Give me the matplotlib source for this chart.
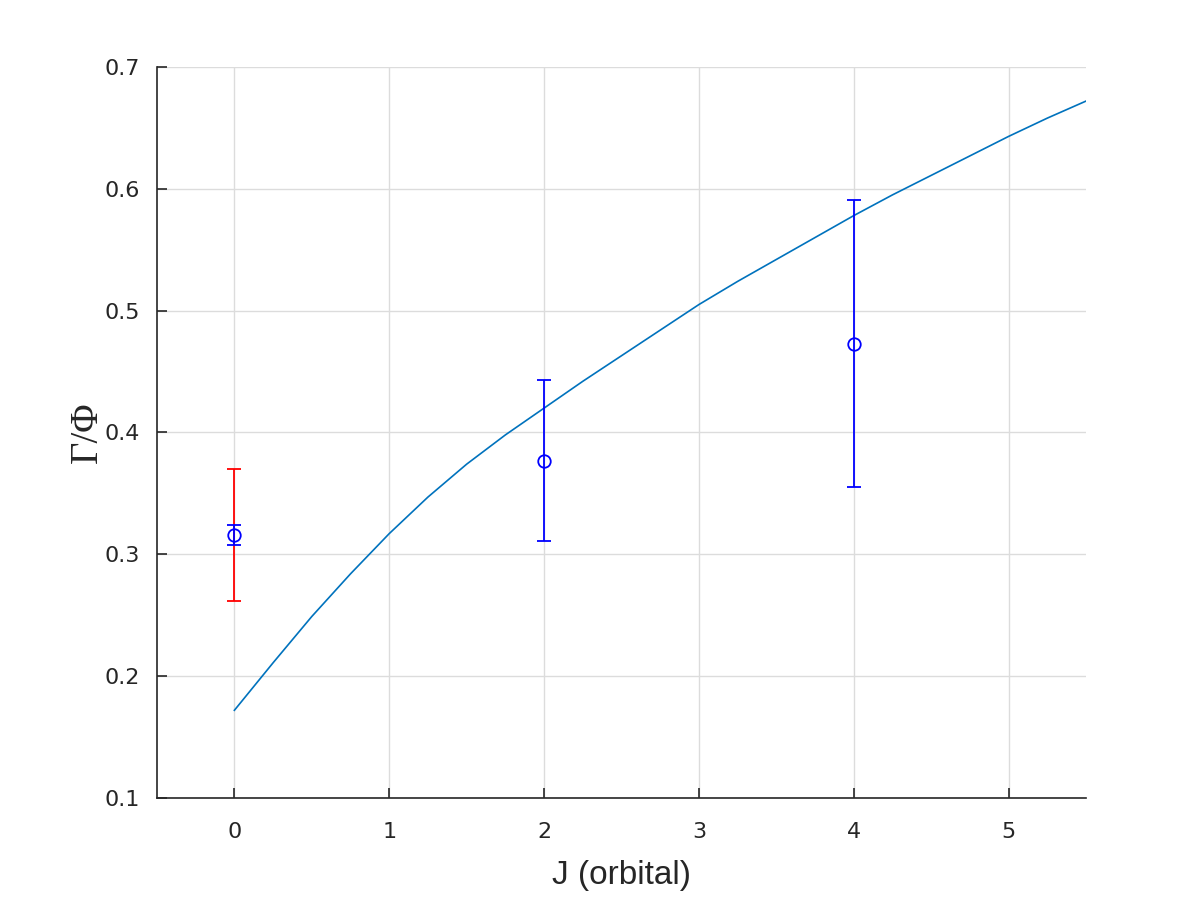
import matplotlib.pyplot as plt

# model curve
curve_j = [0, 0.25, 0.5, 0.75, 1.0, 1.25, 1.5, 1.75, 2.0, 2.25, 2.5, 2.75,
           3.0, 3.25, 3.5, 3.75, 4.0, 4.25, 4.5, 4.75, 5.0, 5.25, 5.5]
curve_val = [0.172, 0.211, 0.249, 0.284, 0.317, 0.347, 0.374, 0.398, 0.420,
             0.442, 0.463, 0.484, 0.505, 0.524, 0.542, 0.560, 0.578, 0.595,
             0.611, 0.627, 0.643, 0.658, 0.672]

# measured points
meas_j = [0, 2, 4]
meas_val = [0.316, 0.377, 0.473]
meas_lo = [0.308, 0.311, 0.355]
meas_hi = [0.324, 0.443, 0.591]

# red bar at J=0
red_j = [0]
red_val = [0.316]
red_lo = [0.262]
red_hi = [0.370]

fig = plt.figure(figsize=(12, 9), dpi=100)
ax = fig.add_axes([0.1308, 0.1133, 0.7742, 0.8123])

ax.plot(curve_j, curve_val, color='#0072BD', lw=1.2, zorder=2)

red_err = [[v - l for v, l in zip(red_val, red_lo)], [h - v for v, h in zip(red_val, red_hi)]]
ax.errorbar(red_j, red_val, yerr=red_err, fmt='none', ecolor='red', elinewidth=1.3,
            capsize=4.8, capthick=1.3, zorder=3)

meas_err = [[v - l for v, l in zip(meas_val, meas_lo)], [h - v for v, h in zip(meas_val, meas_hi)]]
ax.errorbar(meas_j, meas_val, yerr=meas_err, fmt='o', color='blue', mfc='none', mec='blue',
            ms=9, mew=1.3, elinewidth=1.3, capsize=4.8, capthick=1.3, zorder=4)

ax.set_xlim(-0.5, 5.5)
ax.set_ylim(0.1, 0.7)
ax.set_xticks([0, 1, 2, 3, 4, 5])
ax.set_yticks([0.1, 0.2, 0.3, 0.4, 0.5, 0.6, 0.7])

ax.grid(True, color='#dcdcdc', lw=1)
ax.set_axisbelow(True)
for s in ['top', 'right']:
    ax.spines[s].set_visible(False)
for s in ['left', 'bottom']:
    ax.spines[s].set_color('#262626')
    ax.spines[s].set_linewidth(1.2)
ax.tick_params(direction='in', length=7, width=1.2, color='#262626',
               labelsize=16, labelcolor='#262626')
ax.tick_params(axis='x', pad=17)
ax.tick_params(axis='y', pad=12)

ax.set_xlabel('J (orbital)', fontsize=24, family='Liberation Sans', color='#262626', labelpad=13)
ax.set_ylabel('Γ/Φ', fontsize=28, family='Liberation Serif', color='#262626', labelpad=-1)

fig.savefig('out.png', dpi=100)
